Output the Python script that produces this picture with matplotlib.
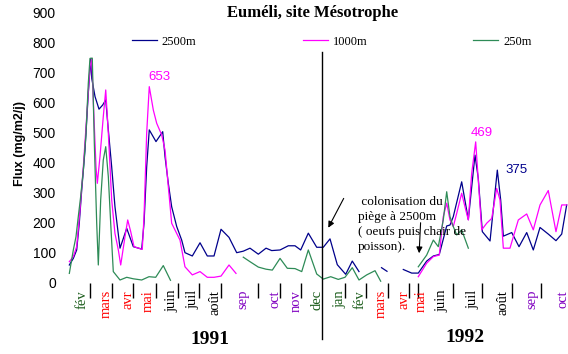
import matplotlib
matplotlib.use("Agg")
import matplotlib.pyplot as plt
import numpy as np

# sampling position, in weeks since the first trap sample
t_2500 = [0.19, 0.76, 1.24, 1.61, 1.96, 2.43, 2.90, 3.24, 3.39, 3.86, 4.43, 4.96, 5.39,
          5.76, 6.24, 6.71, 7.43, 8.39, 9.33, 10.53, 10.86, 11.24, 11.61, 12.57, 13.53,
          13.86, 14.33, 14.81, 15.53, 16.24, 16.71, 17.76, 18.86, 19.90, 20.86, 21.86,
          23.00, 24.10, 25.04, 26.00, 27.19, 28.29, 29.10, 30.29, 31.47, 32.43, 33.24,
          34.33, 35.53, 36.47, 37.43, 38.47, 39.67, 40.61, 41.57, 43.0, 44.79, 45.57,
          46.5, 47.90, 49.10, 50.04, 51.24, 52.19, 53.04, 54.10, 54.57, 55.04, 56.24,
          57.19, 58.14, 58.61, 59.19, 60.29, 61.33, 61.81, 62.19, 63.39, 64.43, 65.53,
          66.47, 67.43, 68.61, 69.71, 70.53, 71.24]
f_2500 = [59, 81, 109, 198, 309, 442, 631, 747, 681, 620, 578, 592, 609,
          509, 386, 253, 115, 181, 120, 112, 198, 386, 509, 470, 503,
          420, 331, 253, 187, 142, 100, 89, 133, 89, 89, 178,
          151, 100, 105, 115, 95, 115, 107, 109, 123, 123, 109,
          165, 118, 118, 146, 60, 28, 72, 37, np.nan, 50, 38,
          np.nan, 44, 32, 32, 72, 89, 94, 189, 192, 220, 336,
          210, 425, 348, 170, 139, 375, 276, 155, 167, 120, 167,
          109, 184, 162, 140, 162, 259]

t_1000 = [0.19, 0.76, 1.24, 1.71, 2.19, 2.67, 3.14, 3.39, 3.61, 4.00, 4.19, 4.57, 5.04,
          5.39, 5.76, 6.24, 6.71, 7.19, 7.53, 8.14, 8.53, 8.96, 9.43, 10.61, 10.86,
          11.24, 11.61, 12.19, 12.67, 13.39, 13.86, 14.33, 14.81, 15.53, 16.00, 16.71,
          17.76, 18.86, 19.90, 20.86, 21.86, 23.00, 24.00, 30.0, 50.04, 51.24, 52.19,
          53.04, 53.61, 54.10, 54.57, 55.04, 55.53, 56.24, 56.71, 57.19, 57.67, 58.24,
          58.61, 59.10, 59.81, 60.53, 61.24, 61.71, 62.19, 63.14, 64.33, 65.53, 66.47,
          67.43, 68.61, 69.71, 70.53, 71.24]
f_1000 = [70, 87, 120, 242, 386, 553, 720, 747, 609, 386, 331, 420, 553,
          642, 498, 276, 164, 109, 59, 153, 209, 170, 120, 111, 220,
          498, 653, 575, 531, 492, 442, 320, 198, 164, 142, 53,
          26, 37, 18, 18, 22, 59, 31, np.nan, 20, 65, 87,
          92, 220, 265, 209, 187, 231, 298, 253, 209, 364, 469,
          342, 176, 198, 214, 314, 276, 115, 115, 209, 229, 176,
          259, 307, 170, 259, 259]

t_250 = [0.19, 0.76, 1.14, 1.47, 1.81, 2.19, 2.57, 2.90, 3.14, 3.47, 3.76, 4.10, 4.33,
         4.67, 5.04, 5.39, 5.76, 6.10, 6.47, 7.43, 8.39, 9.33, 10.53, 11.57, 12.53,
         13.61, 14.64, 20.0, 25.04, 26.00, 27.19, 28.29, 29.19, 30.29, 31.33, 32.43,
         33.39, 34.33, 35.53, 36.47, 37.53, 38.61, 39.57, 40.61, 41.57, 42.67, 43.86,
         44.67, 47.0, 50.04, 51.24, 52.19, 52.90, 53.61, 54.10, 54.57, 55.04, 55.53,
         56.24, 57.19]
f_250 = [31, 109, 153, 220, 287, 375, 498, 664, 747, 748, 464, 198, 59,
         276, 409, 453, 353, 198, 37, 9, 18, 13, 9, 20, 18,
         57, 8, np.nan, 85, 70, 52, 45, 42, 81, 48, 47,
         37, 109, 29, 12, 20, 11, 18, 50, 9, 26, 40,
         5, np.nan, 53, 92, 142, 120, 209, 303, 220, 187, 159,
         176, 115]

# month labels (hand placed under the axis in the original)
mois = ["fév", "mars", "avr", "mai", "juin", "juil", "août", "sep", "oct", "nov", "dec",
        "jan", "fév", "mars", "avr", "mai", "juin", "juil", "août", "sep", "oct"]
mois_t = [1.96, 5.53, 8.57, 11.43, 14.81, 17.86, 21.0, 25.0, 29.57, 32.57, 35.53,
          38.86, 41.71, 44.81, 48.0, 50.53, 53.39, 57.86, 62.14, 66.24, 70.67]
traits_t = [3.14, 6.24, 9.33, 12.53, 15.67, 18.71, 21.86, 27.1, 30.29, 33.24, 39.5,
            42.57, 45.67, 48.76, 49.93, 55.04, 59.19, 63.36, 67.6]

vert = "#1a5c1a"
rouge = "#ff0000"
violet = "#8000c0"
noir = "#000000"
couleur_mois = {"jan": vert, "fév": vert, "mars": rouge, "avr": rouge, "mai": rouge,
                "juin": noir, "juil": noir, "août": noir, "sep": violet, "oct": violet,
                "nov": violet, "dec": vert}

W, H = 568, 354
fig = plt.figure(figsize=(W / 100, H / 100), dpi=100)
ax = fig.add_axes([60 / W, 1 - 282.7 / H, 508 / W, 270.2 / H])

ax.plot(t_2500, f_2500, color="#00008b", lw=0.9, label="2500m")
ax.plot(t_1000, f_1000, color="#ff00ff", lw=0.9, label="1000m")
ax.plot(t_250, f_250, color="#2e8b57", lw=0.9, label="250m")

ax.set_xlim(-8 / 7, 500 / 7)
ax.set_ylim(0, 900)
ax.set_yticks(range(0, 901, 100))
for lab in ax.get_yticklabels():
    lab.set_family("Liberation Sans")
    lab.set_fontsize(10)
ax.tick_params(axis="y", length=0, pad=3)
ax.set_xticks(traits_t)
ax.set_xticklabels([])
ax.tick_params(axis="x", direction="out", length=11, width=1, color="black")
for s in ax.spines.values():
    s.set_visible(False)
ax.patch.set_alpha(0)

# separation between 1991 and 1992
ax.axvline(36.33, ymin=-0.208, ymax=0.855, color="black", lw=1, clip_on=False)

trans = ax.get_xaxis_transform()
for m, t in zip(mois, mois_t):
    ax.text(t, -0.027, m, rotation=90, ha="center", va="top", transform=trans,
            family="Liberation Serif", fontsize=10.5, color=couleur_mois[m])

# peak values
ax.text(13.0, 686, "653", color="#ff00ff", ha="center", va="center",
        family="Liberation Sans", fontsize=9.5)
ax.text(59.14, 499, "469", color="#ff00ff", ha="center", va="center",
        family="Liberation Sans", fontsize=9.5)
ax.text(64.14, 375, "375", color="#00008b", ha="center", va="center",
        family="Liberation Sans", fontsize=9.5)

# note on the 2500 m trap
ax.text(41.43, 289, " colonisation du\npiège à 2500m\n( oeufs puis chair de\npoisson).",
        ha="left", va="top", family="Liberation Serif", fontsize=9.5, linespacing=1.35)
ax.annotate("", xy=(37.0, 175), xytext=(39.57, 289),
            arrowprops=dict(arrowstyle="-|>", color="black", lw=0.8, mutation_scale=9))
ax.annotate("", xy=(50.14, 89), xytext=(50.39, 209),
            arrowprops=dict(arrowstyle="-|>", color="black", lw=0.8, mutation_scale=9))

fig.text(313 / W, 1 - 13 / H, "Euméli, site Mésotrophe", ha="center", va="center",
         family="Liberation Serif", fontweight="bold", fontsize=12)
fig.text(20 / W, 1 - 143.5 / H, "Flux (mg/m2/j)", rotation=90, ha="center", va="center",
         family="Liberation Sans", fontweight="bold", fontsize=9)
fig.text(210 / W, 1 - 340 / H, "1991", ha="center", va="center",
         family="Liberation Serif", fontweight="bold", fontsize=14)
fig.text(465 / W, 1 - 338 / H, "1992", ha="center", va="center",
         family="Liberation Serif", fontweight="bold", fontsize=14)

ax.legend(loc="center left", bbox_to_anchor=(131.7 / W, 1 - 41.7 / H),
          bbox_transform=fig.transFigure, ncol=3, frameon=False,
          prop={"family": "Liberation Serif", "size": 9},
          handlelength=2.0, handletextpad=0.4, columnspacing=8.5,
          borderpad=0, borderaxespad=0)

fig.savefig("out.png", dpi=100)
